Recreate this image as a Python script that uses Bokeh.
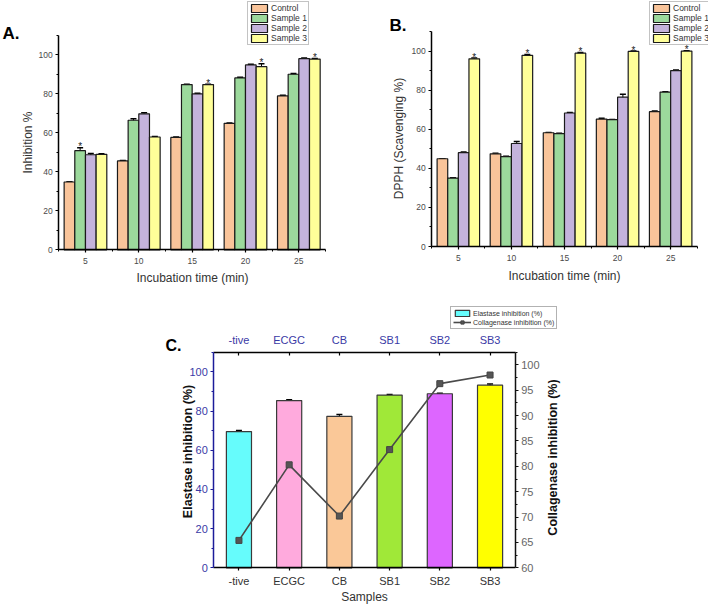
from bokeh.plotting import figure
from bokeh.models import (ColumnDataSource, Range1d, FactorRange, FixedTicker, Whisker, TeeHead,
                          Legend, LegendItem, LinearAxis, CategoricalAxis, Label, Spacer)
from bokeh.layouts import column, row
from bokeh.core.properties import value
from bokeh.embed import file_html
from bokeh.resources import INLINE

FONT = "Liberation Sans"

# ---------------- data ----------------
times = [5, 10, 15, 20, 25]
series = ["Control", "Sample 1", "Sample 2", "Sample 3"]
series_colors = ["#f9c49a", "#9cd99c", "#c4b3dc", "#ffff99"]
y_ticks_ab = [0, 20, 40, 60, 80, 100]

# Panel A: Inhibition %
a_control = [34.8, 45.6, 57.7, 64.9, 79.0]
a_sample1 = [50.9, 66.5, 84.8, 88.2, 90.1]
a_sample2 = [48.8, 69.8, 80.0, 94.9, 98.1]
a_sample3 = [49.0, 57.9, 84.8, 94.0, 97.9]
a_err_control = [0.0, 0.3, 0.2, 0.2, 0.3]
a_err_sample1 = [1.5, 0.8, 0.2, 0.4, 0.4]
a_err_sample2 = [0.6, 0.5, 0.4, 0.4, 0.3]
a_err_sample3 = [0.3, 0.3, 0.2, 1.5, 0.3]
a_star = ["Sample 1", "", "Sample 3", "Sample 3", "Sample 3"]

# Panel B: DPPH (Scavenging %)
b_control = [44.9, 47.4, 58.2, 65.2, 69.0]
b_sample1 = [35.0, 46.0, 57.8, 64.9, 79.0]
b_sample2 = [48.0, 52.7, 68.3, 76.4, 90.0]
b_sample3 = [96.0, 97.8, 98.9, 99.8, 100.0]
b_err_control = [0.0, 0.3, 0.1, 0.4, 0.3]
b_err_sample1 = [0.0, 0.2, 0.1, 0.1, 0.2]
b_err_sample2 = [0.3, 1.0, 0.3, 1.5, 0.3]
b_err_sample3 = [0.4, 0.4, 0.3, 0.2, 0.2]
b_star = ["Sample 3", "Sample 3", "Sample 3", "Sample 3", "Sample 3"]

# Panel C
c_samples = ["-tive", "ECGC", "CB", "SB1", "SB2", "SB3"]
c_colors = ["#66fcfc", "#ffaadd", "#fac898", "#a0e838", "#dd66ff", "#ffff00"]
c_elastase = [69.5, 85.3, 77.3, 88.1, 88.8, 93.2]
c_elastase_err = [0.5, 0.4, 0.9, 0.3, 0.3, 0.6]
c_collagenase = [65.4, 80.3, 70.2, 83.3, 96.3, 98.0]
c_collagenase_err = [1.1, 0.8, 1.1, 0.4, 0.2, 0.2]
c_left_ticks = [0, 20, 40, 60, 80, 100]
c_right_ticks = [60, 65, 70, 75, 80, 85, 90, 95, 100]


class Geo:
    """maps figure-local pixel positions to data coordinates (for text placement)"""
    def __init__(self, x0, x1, y0, y1, w, h):
        self.x0, self.x1, self.y0, self.y1, self.w, self.h = x0, x1, y0, y1, w, h

    def x(self, px):
        return self.x0 + px / self.w * (self.x1 - self.x0)

    def y(self, py):
        return self.y1 - py / self.h * (self.y1 - self.y0)


def style_axis(ax, size="8.5px", color="#444444", line_color="black"):
    ax.axis_line_width = 1.5
    ax.axis_line_color = line_color
    ax.major_tick_line_color = line_color
    ax.minor_tick_line_color = line_color
    ax.major_tick_line_width = 1.2
    ax.minor_tick_line_width = 1.0
    ax.major_tick_out = 3
    ax.major_tick_in = 0
    ax.minor_tick_out = 2
    ax.minor_tick_in = 0
    ax.major_label_standoff = 3
    ax.major_label_text_font = FONT
    ax.major_label_text_font_size = size
    ax.major_label_text_color = color
    ax.axis_label = None


def text_label(p, x, y, text, size, bold=False, angle=0, align="center", baseline="middle",
               color="#333333"):
    p.add_layout(Label(x=x, y=y, text=text, angle=angle, angle_units="deg",
                       text_align=align, text_baseline=baseline, text_font=FONT,
                       text_font_size=size, text_font_style="bold" if bold else "normal",
                       text_color=color))


W_AB, H_AB = 354, 296


def bar_panel(vals, errs, stars, ylabel, ax_left, ax_right, ay_bottom, ay_top,
              leg_x, leg_w, tag, tag_x, tag_y, ylab_pos, xlab_pos):
    # linear maps: data 2.5..27.5 -> ax_left..ax_right px ; 0..110 -> ay_bottom..ay_top px
    sx = (ax_right - ax_left) / 25.0
    sy = (ay_bottom - ay_top) / 110.0
    x0 = 2.5 - ax_left / sx
    x1 = x0 + W_AB / sx
    y1 = ay_bottom / sy
    y0 = -(H_AB - ay_bottom) / sy
    g = Geo(x0, x1, y0, y1, W_AB, H_AB)
    p = figure(width=W_AB, height=H_AB, x_range=Range1d(x0, x1), y_range=Range1d(y0, y1),
               output_backend="svg", toolbar_location=None, title=None, min_border=0)
    p.grid.visible = False
    p.outline_line_color = None
    items = []
    for i, name in enumerate(series):
        off = i - 1.5
        xs = [t + off for t in times]
        v = vals[i]
        e = errs[i]
        src = ColumnDataSource(dict(x=xs, top=v,
                                    upper=[a + b for a, b in zip(v, e)],
                                    lower=[a - b for a, b in zip(v, e)]))
        r = p.vbar(x="x", top="top", bottom=0, width=1.0, source=src,
                   fill_color=series_colors[i], line_color="#1a1a1a", line_width=1.2)
        p.add_layout(Whisker(base="x", upper="upper", lower="lower", source=src,
                             line_color="black", line_width=1,
                             upper_head=TeeHead(size=6, line_width=1.5, line_color="black"),
                             lower_head=TeeHead(size=6, line_width=1.5, line_color="black")))
        items.append(LegendItem(label=name, renderers=[r]))
    stx, sty = [], []
    for j, s in enumerate(stars):
        if s:
            k = series.index(s)
            stx.append(times[j] + k - 1.5)
            sty.append(vals[k][j] + errs[k][j] + 0.4)
    p.text(x=stx, y=sty, text=["*"] * len(stx), text_align="center", text_baseline="alphabetic",
           text_font=value(FONT), text_font_size="10px", text_color="#222222")

    p.xaxis.ticker = FixedTicker(ticks=times, minor_ticks=[2.5, 7.5, 12.5, 17.5, 22.5, 27.5])
    p.yaxis.ticker = FixedTicker(ticks=y_ticks_ab, minor_ticks=[10, 30, 50, 70, 90, 110])
    p.xaxis.fixed_location = 0
    p.xaxis.bounds = (2.5, 27.5)
    p.yaxis.fixed_location = 2.5
    p.yaxis.bounds = (0, 110)
    for ax in (p.xaxis[0], p.yaxis[0]):
        style_axis(ax, size="8.5px", color="#4a4a4a")
    p.xaxis.major_label_standoff = 5

    text_label(p, g.x(ylab_pos[0]), g.y(ylab_pos[1]), ylabel, "12px", angle=90)
    text_label(p, g.x(xlab_pos[0]), g.y(xlab_pos[1]), "Incubation time (min)", "12px")
    text_label(p, g.x(tag_x), g.y(tag_y), tag, "17px", bold=True, align="left",
               baseline="alphabetic", color="black")

    leg = Legend(items=items, location=(leg_x, H_AB - 45), glyph_width=20, glyph_height=10,
                 label_height=10, spacing=0, padding=1, margin=0, label_standoff=2,
                 label_width=leg_w, label_text_font=FONT, label_text_font_size="8.5px",
                 label_text_color="#333333", label_text_line_height=1.0,
                 border_line_color="#888888", border_line_width=1, background_fill_alpha=1)
    p.add_layout(leg)
    return p


pa = bar_panel([a_control, a_sample1, a_sample2, a_sample3],
               [a_err_control, a_err_sample1, a_err_sample2, a_err_sample3],
               a_star, "Inhibition %", 58.3, 325.0, 249.3, 35.0,
               247, 36, "A.", 2, 33, (27, 142), (192, 277))
pb = bar_panel([b_control, b_sample1, b_sample2, b_sample3],
               [b_err_control, b_err_sample1, b_err_sample2, b_err_sample3],
               b_star, "DPPH (Scavenging %)", 77.3, 342.7, 246.0, 31.0,
               295, 36, "B.", 35, 25, (44, 138), (210, 275))

# ---------------- panel C ----------------
WC, HC = 472, 308
c_left, c_right, c_bottom, c_top = 85.4, 387.0, 271.3, 55.7   # px of data box inside figure C
pad = c_left / ((c_right - c_left) / 6.0)
sy_c = (c_bottom - c_top) / 110.0
cy1 = c_bottom / sy_c
cy0 = -(HC - c_bottom) / sy_c
sr_c = (c_bottom - c_top) / 42.5
ry0 = 60 - (HC - c_bottom) / sr_c
ry1 = 60 + c_bottom / sr_c
gx0 = -pad
gx1 = 6 + pad
gc = Geo(gx0, gx1, cy0, cy1, WC, HC)

pc = figure(width=WC, height=HC, output_backend="svg", toolbar_location=None, title=None,
            min_border=0,
            x_range=FactorRange(factors=c_samples, range_padding=pad,
                                range_padding_units="absolute"),
            y_range=Range1d(cy0, cy1))
pc.grid.visible = False
pc.outline_line_color = None
pc.extra_y_ranges = {"coll": Range1d(ry0, ry1)}

srcc = ColumnDataSource(dict(x=c_samples, top=c_elastase, color=c_colors,
                             upper=[a + b for a, b in zip(c_elastase, c_elastase_err)],
                             lower=[a - b for a, b in zip(c_elastase, c_elastase_err)]))
rb = pc.vbar(x="x", top="top", bottom=0, width=0.5, source=srcc, fill_color="color",
             line_color="#3a3a3a", line_width=1.2)
pc.add_layout(Whisker(base="x", upper="upper", lower="lower", source=srcc,
                      line_color="black", line_width=1,
                      upper_head=TeeHead(size=6, line_width=1.5, line_color="black"),
                      lower_head=TeeHead(size=6, line_width=1.5, line_color="black")))

srcl = ColumnDataSource(dict(x=c_samples, y=c_collagenase,
                             upper=[a + b for a, b in zip(c_collagenase, c_collagenase_err)],
                             lower=[a - b for a, b in zip(c_collagenase, c_collagenase_err)]))
rl = pc.line(x="x", y="y", source=srcl, y_range_name="coll", line_color="#4a4a4a", line_width=1.6)
rs = pc.scatter(x="x", y="y", source=srcl, y_range_name="coll", marker="square", size=6,
                fill_color="#555555", line_color="#444444")
pc.add_layout(Whisker(base="x", upper="upper", lower="lower", source=srcl, y_range_name="coll",
                      line_color="#555555", line_width=1,
                      upper_head=TeeHead(size=6, line_width=1, line_color="#555555"),
                      lower_head=TeeHead(size=6, line_width=1, line_color="#555555")))

blue_line = "#1c1c9a"
blue_text = "#3a3aa6"
pc.yaxis.ticker = FixedTicker(ticks=c_left_ticks, minor_ticks=[10, 30, 50, 70, 90, 110])
pc.yaxis.fixed_location = 0
pc.yaxis.bounds = (0, 110)
style_axis(pc.yaxis[0], size="11px", color=blue_text, line_color=blue_line)

pc.xaxis.fixed_location = 0
pc.xaxis.bounds = (0, 6)
style_axis(pc.xaxis[0], size="11px", color="#333333")
pc.xaxis.major_label_standoff = 4

top_ax = CategoricalAxis(fixed_location=110, bounds=(0, 6))
style_axis(top_ax, size="11px", color=blue_text)
top_ax.major_tick_out = 0
top_ax.major_tick_in = 3
top_ax.major_label_standoff = 6
pc.add_layout(top_ax, "above")

right_ax = LinearAxis(y_range_name="coll", fixed_location=6, bounds=(60, 102.5),
                      ticker=FixedTicker(ticks=c_right_ticks,
                                         minor_ticks=[62.5, 67.5, 72.5, 77.5, 82.5, 87.5,
                                                      92.5, 97.5, 102.5]))
style_axis(right_ax, size="11px", color="#666666", line_color="#111111")
pc.add_layout(right_ax, "right")

text_label(pc, gc.x(59), gc.y(155), "Elastase inhibition (%)", "12.5px", bold=True, angle=90,
           color="#111111")
text_label(pc, gc.x(424), gc.y(161), "Collagenase inhibition (%)", "12.5px", bold=True,
           angle=90, color="#111111")
text_label(pc, gc.x(236), gc.y(300), "Samples", "12px")
text_label(pc, gc.x(37), gc.y(49), "C.", "16px", bold=True, align="left", baseline="alphabetic",
           color="black")

legc = Legend(items=[LegendItem(label="Elastase inhibition (%)", renderers=[rb], index=0),
                     LegendItem(label="Collagenase inhibition (%)", renderers=[rl, rs])],
              location=(322, HC - 33), glyph_width=18, glyph_height=8, label_height=8, spacing=1,
              padding=2, margin=0, label_standoff=2, label_text_font=FONT,
              label_text_font_size="7px", label_text_color="#333333",
              border_line_color="#666666", border_line_width=1, background_fill_alpha=1)
pc.add_layout(legc)

layout = column(row(pa, pb), row(Spacer(width=128, height=HC), pc))
open("out.html", "w").write(file_html(layout, INLINE))
